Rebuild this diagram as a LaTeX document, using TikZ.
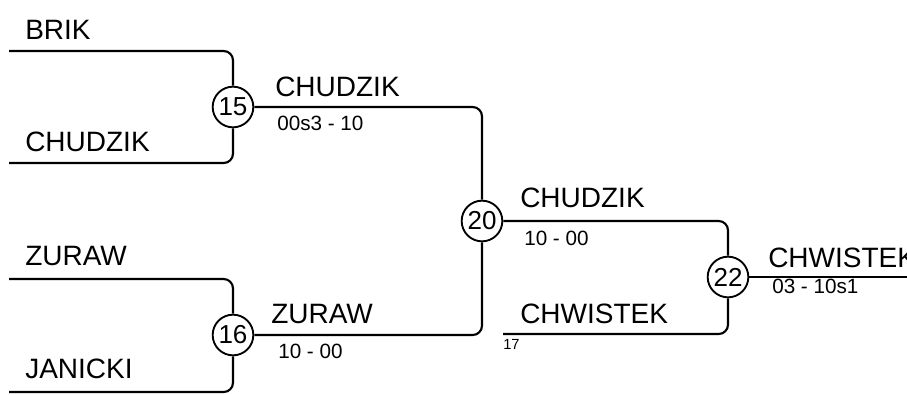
\documentclass[tikz,border=0pt]{standalone}
\usepackage{fontspec}
\setmainfont{Liberation Sans}
\usetikzlibrary{positioning}

\begin{document}
\begin{tikzpicture}[x=0.75pt,y=-0.75pt,
    bracket/.style={line width=1.6pt,rounded corners=7},
    matchno/.style={draw,circle,line width=1.4pt,minimum size=30.5pt,inner sep=0pt,font=\fontsize{19.5}{19.5}\selectfont,fill=white},
    player/.style={anchor=base west,inner sep=0pt,font=\fontsize{21}{21}\selectfont},
    score/.style={anchor=base west,inner sep=0pt,font=\fontsize{15.5}{15.5}\selectfont},
    seed/.style={anchor=base west,inner sep=0pt,font=\fontsize{11}{11}\selectfont}]
        % Frame of the picture
        \useasboundingbox (0,0) rectangle (907,394);
        \clip (0,0) rectangle (907,394);
        % Starting points of the first round
        \coordinate (brik) at (9,51);
        \coordinate (chudzik) at (9,163);
        \coordinate (zuraw) at (9,279);
        \coordinate (janicki) at (9,392);
        \coordinate (chwistek) at (503,334);
        \coordinate (final) at (907,277);
        % Match numbers
        \node[matchno] (m15) at (233,107) {15};
        \node[matchno] (m16) at (233,335) {16};
        \node[matchno] (m20) at (482,221) {20};
        \node[matchno] (m22) at (728,277) {22};
        % Bracket lines
        \draw[bracket] (brik) -| (m15.north);
        \draw[bracket] (chudzik) -| (m15.south);
        \draw[bracket] (zuraw) -| (m16.north);
        \draw[bracket] (janicki) -| (m16.south);
        \draw[bracket] (m15.east) -| (m20.north);
        \draw[bracket] (m16.east) -| (m20.south);
        \draw[bracket] (m20.east) -| (m22.north);
        \draw[bracket] (chwistek) -| (m22.south);
        \draw[bracket] (m22.east) -- (final);
        % Names and scores
        \node[player] (pbrik) at (25,39) {BRIK};
        \node[player] (pchudzik) at (25,151) {CHUDZIK};
        \node[player] (pzuraw) at (25,265) {ZURAW};
        \node[player] (pjanicki) at (25,378) {JANICKI};
        \node[player] (w15) at (275,96) {CHUDZIK};
        \node[score] (s15) at (277,130) {00s3 - 10};
        \node[player] (w16) at (271,323) {ZURAW};
        \node[score] (s16) at (278,358) {10 - 00};
        \node[player] (w20) at (520,207) {CHUDZIK};
        \node[score] (s20) at (524,245) {10 - 00};
        \node[player] (pchwistek) at (520,323) {CHWISTEK};
        \node[seed] (seed17) at (503,349) {17};
        \node[player] (w22) at (768,267) {CHWISTEK};
        \node[score] (s22) at (772,293) {03 - 10s1};
    \end{tikzpicture}
\end{document}
